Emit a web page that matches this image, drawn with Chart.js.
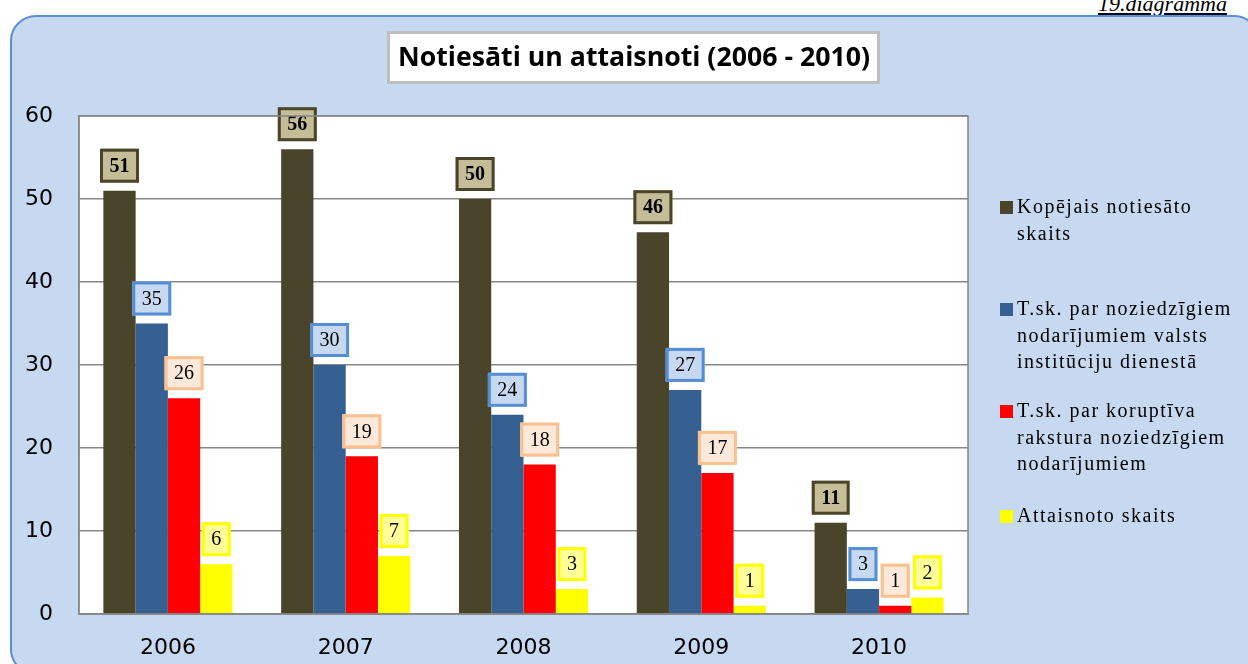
<!DOCTYPE html>
<html>
<head>
<meta charset="utf-8">
<script src="https://cdn.jsdelivr.net/npm/chart.js@4"></script>
<style>
  body { margin: 0; background: #fff; width: 1248px; height: 664px; overflow: hidden; position: relative; }
  #panel {
    position: absolute; left: 10px; top: 15px; width: 1250px; height: 660px;
    box-sizing: border-box; background: #c6d9f0;
    border: 2px solid #5b8ed6; border-radius: 26px;
  }
  #tag {
    position: absolute; left: 1098px; top: -9px;
    font: italic 22px "Liberation Serif", serif; text-decoration: underline; color: #000;
    white-space: nowrap;
  }
  #chart { position: absolute; left: 0; top: 0; }
</style>
</head>
<body>
<div id="tag">19.diagramma</div>
<div id="panel"></div>
<canvas id="chart" width="1248" height="664"></canvas>
<script>
const years = ["2006", "2007", "2008", "2009", "2010"];
const total = [51, 56, 50, 46, 11];
const stateService = [35, 30, 24, 27, 3];
const corruption = [26, 19, 18, 17, 1];
const acquitted = [6, 7, 3, 1, 2];
const yTicks = [0, 10, 20, 30, 40, 50, 60];

const seriesNames = [
  ["Kopējais notiesāto", "skaits"],
  ["T.sk. par noziedzīgiem", "nodarījumiem valsts", "institūciju dienestā"],
  ["T.sk. par koruptīva", "rakstura noziedzīgiem", "nodarījumiem"],
  ["Attaisnoto skaits"],
];
const chartTitle = "Notiesāti un attaisnoti (2006 - 2010)";

const barColors = ["#4a442a", "#376092", "#ff0000", "#ffff00"];
const labelFill = ["#c4bd97", "#c6d9f0", "#fde9d9", "#ffff99"];
const labelBorder = ["#4a442a", "#558ed5", "#fac090", "#ffff00"];

// white plot area, framed, plus the boxed title
const backdrop = {
  id: "backdrop",
  beforeDraw(chart) {
    const { ctx, chartArea: a } = chart;
    ctx.save();
    ctx.fillStyle = "#fff";
    ctx.fillRect(a.left, a.top, a.right - a.left, a.bottom - a.top);

    // title box
    ctx.fillStyle = "#fff";
    ctx.fillRect(387, 31, 493, 53);
    ctx.strokeStyle = "#bfbfbf";
    ctx.lineWidth = 3;
    ctx.strokeRect(388.5, 32.5, 490, 50);
    ctx.font = 'bold 26px "Open Sans", sans-serif';
    const w = ctx.measureText(chartTitle).width;
    ctx.translate(634, 58);
    ctx.scale(472 / w, 1);
    ctx.fillStyle = "#000";
    ctx.textAlign = "center";
    ctx.textBaseline = "middle";
    ctx.fillText(chartTitle, 0, 1);
    ctx.restore();
  },
  afterDraw(chart) {
    const { ctx, chartArea: a } = chart;
    ctx.save();
    ctx.strokeStyle = "#868686";
    ctx.lineWidth = 1.5;
    ctx.strokeRect(a.left, a.top, a.right - a.left, a.bottom - a.top);
    ctx.restore();
  },
};

// boxed value labels above bars
const valueBoxes = {
  id: "valueBoxes",
  afterDatasetsDraw(chart) {
    const ctx = chart.ctx;
    ctx.save();
    ctx.textAlign = "center";
    ctx.textBaseline = "middle";
    chart.data.datasets.forEach((ds, di) => {
      const meta = chart.getDatasetMeta(di);
      ctx.font = (di === 0 ? "bold " : "") + '20px "Liberation Serif", serif';
      meta.data.forEach((bar, i) => {
        const txt = String(ds.data[i]);
        const bw = ctx.measureText(txt).width + 19;
        const bh = 34;
        const x = bar.x - bw / 2;
        const y = bar.y - 8 - bh;
        ctx.fillStyle = labelFill[di];
        ctx.fillRect(x, y, bw, bh);
        ctx.strokeStyle = labelBorder[di];
        ctx.lineWidth = 3;
        ctx.strokeRect(x + 1.5, y + 1.5, bw - 3, bh - 3);
        ctx.fillStyle = "#000";
        ctx.fillText(txt, bar.x, y + bh / 2 + 1);
      });
    });
    ctx.restore();
  },
};

// legend on the right, wrapped like the original
const sideLegend = {
  id: "sideLegend",
  afterDraw(chart) {
    const ctx = chart.ctx;
    const tops = [208, 310, 412, 517];
    const x0 = chart.chartArea.right + 32;
    ctx.save();
    ctx.font = '20px "Liberation Serif", serif';
    ctx.letterSpacing = "1.5px";
    ctx.textBaseline = "middle";
    seriesNames.forEach((lines, k) => {
      ctx.fillStyle = barColors[k];
      ctx.fillRect(x0, tops[k] - 7, 13, 13);
      ctx.fillStyle = "#000";
      lines.forEach((ln, j) => {
        ctx.fillText(ln, x0 + 17, tops[k] + j * 26.5);
      });
    });
    ctx.restore();
  },
};

const allSeries = [total, stateService, corruption, acquitted];

new Chart(document.getElementById("chart"), {
  type: "bar",
  data: {
    labels: years,
    datasets: allSeries.map((vals, i) => ({
      label: seriesNames[i].join(" "),
      data: vals,
      backgroundColor: barColors[i],
      borderWidth: 0,
      categoryPercentage: 0.726,
      barPercentage: 1.0,
    })),
  },
  options: {
    responsive: false,
    animation: false,
    layout: { padding: { left: 0, top: 116, right: 280, bottom: 0 } },
    plugins: {
      legend: { display: false },
      tooltip: { enabled: false },
      title: { display: false },
    },
    scales: {
      x: {
        grid: { display: false, drawTicks: false },
        border: { color: "#868686", width: 1.5 },
        ticks: { color: "#000", padding: 21, font: { family: "DejaVu Sans", size: 22 } },
        afterFit(scale) { scale.height = 50; },
      },
      y: {
        min: 0,
        max: 60,
        afterBuildTicks(scale) { scale.ticks = yTicks.map((v) => ({ value: v })); },
        grid: { color: "#868686", lineWidth: 1.5, drawTicks: false },
        border: { color: "#868686", width: 1.5 },
        ticks: { color: "#000", padding: 26, font: { family: "DejaVu Sans", size: 22 } },
        afterFit(scale) { scale.width = 79; },
      },
    },
  },
  plugins: [backdrop, valueBoxes, sideLegend],
});
</script>
</body>
</html>
